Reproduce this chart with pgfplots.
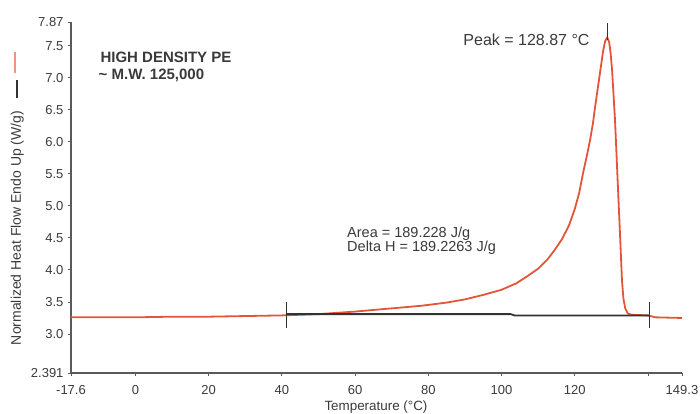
\documentclass[border=0pt]{standalone}
\usepackage{fontspec}
\setmainfont{Liberation Sans}
\usepackage{pgfplots}
\pgfplotsset{compat=1.18}

\definecolor{dscred}{HTML}{E2553B}
\definecolor{dscpink}{HTML}{EE9580}
\definecolor{txt}{HTML}{3A3A3A}
\definecolor{axisgray}{HTML}{5A5A5A}
\definecolor{base}{HTML}{333333}

\begin{document}
\begin{tikzpicture}
\path[use as bounding box] (-71pt,-41pt) rectangle (629pt,373pt);
\begin{axis}[
  scale only axis, width=611pt, height=351pt,
  xmin=-17.6, xmax=149.3, ymin=2.391, ymax=7.87,
  axis lines=left,
  x axis line style={-, line width=1.6pt, axisgray},
  y axis line style={-, line width=1.6pt, axisgray},
  tick align=outside, major tick length=3pt,
  tick style={line width=0.9pt, axisgray},
  xtick={-17.6,0,20,40,60,80,100,120,140,149.3},
  xticklabels={-17.6,0,20,40,60,80,100,120,,149.3},
  ytick={2.391,3,3.5,4,4.5,5,5.5,6,6.5,7,7.5,7.87},
  yticklabels={2.391,3.0,3.5,4.0,4.5,5.0,5.5,6.0,6.5,7.0,7.5,7.87},
  ticklabel style={font=\fontsize{13}{13}\selectfont, txt},
  xticklabel style={yshift=-6pt},
  yticklabel style={xshift=-1pt},
  clip=false,
]
% DSC heat flow curve
\addplot[dscred, line width=1.8pt, line join=round] coordinates {
(-17.6,3.26) (0,3.26) (10,3.27) (20,3.27) (30,3.28) (40,3.29)
(50,3.31) (60,3.35) (70,3.40) (78,3.44) (85,3.49) (90,3.54)
(95,3.61) (100,3.69) (104,3.79) (107,3.90) (110,4.02) (112.5,4.16)
(114.5,4.31) (116.5,4.48) (118.4,4.69) (120,4.95) (121.2,5.20)
(122.3,5.52) (123.3,5.78) (124.2,6.03) (125,6.30) (125.5,6.52)
(126.2,6.80) (127,7.12) (127.7,7.40) (128.3,7.57) (128.87,7.63)
(129.4,7.56) (129.8,7.38) (130.2,7.12) (131.0,6.34) (131.8,5.29)
(132.4,4.51) (132.9,3.84) (133.3,3.55) (133.8,3.40) (134.5,3.32)
(135.5,3.30) (140,3.29) (142,3.26) (149.3,3.25)
};
% integration baseline
\addplot[base, line width=1.8pt] coordinates {
(41.4,3.31) (102.5,3.31) (103.5,3.29) (140.5,3.29)
};
\addplot[base, line width=1pt] coordinates {(41.4,3.09) (41.4,3.50)};
\addplot[base, line width=1pt] coordinates {(140.5,3.09) (140.5,3.50)};
% peak marker
\addplot[base, line width=1pt] coordinates {(128.87,7.59) (128.87,7.86)};

\node[anchor=base west, txt, font=\bfseries\fontsize{15}{15}\selectfont] at (axis cs:-10.5,7.23) {HIGH DENSITY PE};
\node[anchor=base west, txt, font=\bfseries\fontsize{15}{15}\selectfont] at (axis cs:-11,6.97) {\textasciitilde\ M.W. 125,000};
\node[anchor=base east, txt, font=\fontsize{16}{16}\selectfont] at (axis cs:125.0,7.51) {Peak = 128.87 °C};
\node[anchor=west, inner sep=0pt, align=left, txt, font=\fontsize{14.5}{14}\selectfont] at (axis cs:57.8,4.46) {Area = 189.228 J/g\\Delta H = 189.2263 J/g};

\node[anchor=base, txt, font=\fontsize{13.4}{13.4}\selectfont] at (axis cs:65.7,1.80) {Temperature (°C)};
\node[anchor=base, rotate=90, txt, font=\fontsize{14}{14}\selectfont] at (axis cs:-31.3,4.655) {Normalized Heat Flow Endo Up (W/g)};
\draw[dscpink, line width=1.8pt] (axis cs:-32.8,7.40) -- (axis cs:-32.8,7.07);
\draw[base, line width=1.6pt] (axis cs:-32.4,6.96) -- (axis cs:-32.4,6.68);
\end{axis}
\end{tikzpicture}
\end{document}
